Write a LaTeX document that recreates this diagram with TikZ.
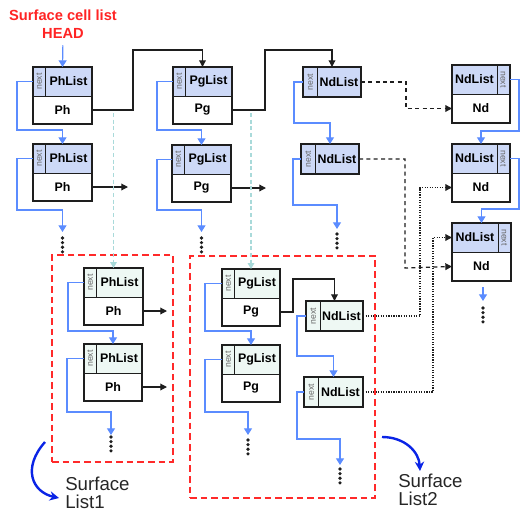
\documentclass[tikz,border=0pt]{standalone}
\usepackage{fontspec}
\setmainfont{Liberation Sans}
\usepackage{graphicx}
\usetikzlibrary{arrows.meta}
\definecolor{topblue}{HTML}{CDD9F7}
\definecolor{topmint}{HTML}{EEF8F4}
\definecolor{nxtblue}{HTML}{5B8CFF}
\definecolor{headred}{HTML}{FF2424}
\definecolor{boxred}{HTML}{FF2A2A}
\definecolor{cyanln}{HTML}{A9DADA}
\definecolor{curveblue}{HTML}{0A24E6}
\definecolor{framegray}{HTML}{1E1E1E}
\tikzset{
  geom/.style={inner sep=0pt, outer sep=0pt},
  strip/.style={draw=framegray, line width=0.6pt, inner sep=0pt, outer sep=0pt,
    minimum width={12*0.75pt}, minimum height={29*0.75pt},
    font=\fontsize{6.5}{7}\selectfont\color{black!60}},
  toplbl/.style={draw=framegray, line width=0.6pt, inner sep=0pt, outer sep=0pt,
    minimum height={29*0.75pt}, font=\fontsize{9.3}{11}\selectfont\bfseries},
  botlbl/.style={draw=framegray, line width=0.6pt, fill=white, inner sep=0pt, outer sep=0pt,
    minimum height={28*0.75pt}, font=\fontsize{9.3}{11}\selectfont\bfseries},
  frame/.style={draw=framegray, line width=1.6pt},
  nextln/.style={draw=nxtblue, line width=0.9pt, -{Triangle[width=6pt,length=5pt]}},
  blk/.style={draw=framegray, line width=0.9pt, -{Triangle[width=5pt,length=5pt]}},
  blkdash/.style={blk, dash pattern=on 3pt off 2.5pt},
  blkdot/.style={blk, densely dotted},
  cyandash/.style={draw=cyanln, line width=0.8pt, dash pattern=on 3pt off 2pt,
    -{Triangle[width=5pt,length=4.5pt]}},
  redbox/.style={draw=boxred, line width=1.3pt, dash pattern=on 5pt off 3pt, inner sep=0pt, outer sep=0pt},
  curvearrow/.style={draw=curveblue, line width=1.8pt, -{Stealth[length=7pt,width=7pt]}},
  headtxt/.style={text=headred, font=\fontsize{11}{13.5}\selectfont\bfseries, align=center, inner sep=0pt},
  listtxt/.style={text=black!85, font=\fontsize{14}{13.5}\selectfont, align=left, inner sep=0pt}
}
% strip on the left, two parts
\newcommand\cellL[7]{%
  \node[geom, minimum width={#4*0.75pt}, minimum height={57*0.75pt}, anchor=north west] (#1) at (#2,#3) {};
  \node[strip, fill=#7, anchor=north west] (#1n) at (#1.north west) {\rotatebox{90}{next}};
  \node[toplbl, fill=#7, minimum width={(#4-12)*0.75pt}, anchor=north west] (#1l) at (#1n.north east) {#5};
  \node[botlbl, minimum width={#4*0.75pt}, anchor=north west] (#1b) at (#1n.south west) {#6};
  \draw[frame] (#1.north west) rectangle (#1.south east);
}
% strip on the right, two parts
\newcommand\cellR[7]{%
  \node[geom, minimum width={#4*0.75pt}, minimum height={58*0.75pt}, anchor=north west] (#1) at (#2,#3) {};
  \node[toplbl, fill=#7, minimum width={(#4-13)*0.75pt}, anchor=north west] (#1l) at (#1.north west) {#5};
  \node[strip, fill=#7, minimum width={13*0.75pt}, anchor=north west] (#1n) at (#1l.north east) {\rotatebox{-90}{next}};
  \node[botlbl, minimum height={29*0.75pt}, minimum width={#4*0.75pt}, anchor=north west] (#1b) at (#1l.south west) {#6};
  \draw[frame] (#1.north west) rectangle (#1.south east);
}
% single row
\newcommand\cellN[6]{%
  \node[geom, minimum width={#4*0.75pt}, minimum height={30*0.75pt}, anchor=north west] (#1) at (#2,#3) {};
  \node[strip, fill=#6, minimum height={30*0.75pt}, minimum width={14*0.75pt}, anchor=north west] (#1n) at (#1.north west) {\rotatebox{90}{next}};
  \node[toplbl, fill=#6, minimum height={30*0.75pt}, minimum width={(#4-14)*0.75pt}, anchor=north west] (#1l) at (#1n.north east) {#5};
  \draw[frame] (#1.north west) rectangle (#1.south east);
}
\newcommand\dotcol[2]{\foreach \kk in {0,1,2,3}{\fill[framegray] (#1,{#2+\kk*4.6}) circle (1.35pt);}}

\begin{document}
\begin{tikzpicture}[x=0.75pt,y=-0.75pt]
\useasboundingbox (0,0) rectangle (522,511);

% surface list frames
\node[redbox, minimum width={121*0.75pt}, minimum height={207*0.75pt}, anchor=north west] (S1) at (52,255) {};
\node[redbox, minimum width={185*0.75pt}, minimum height={242*0.75pt}, anchor=north west] (S2) at (190,256) {};

% title
\node[headtxt] (head) at (63,24) {Surface cell list\\HEAD};

% cells
\cellL{A1}{33}{67}{59}{PhList}{Ph}{topblue}
\cellL{A2}{33}{144}{59}{PhList}{Ph}{topblue}
\cellL{B1}{173}{67}{59}{PgList}{Pg}{topblue}
\cellL{B2}{172}{145}{59}{PgList}{Pg}{topblue}
\cellN{C1}{303}{67}{58}{NdList}{topblue}
\cellN{C2}{301}{144}{58}{NdList}{topblue}
\cellR{D1}{452}{65}{58}{NdList}{Nd}{topblue}
\cellR{D2}{452}{144}{58}{NdList}{Nd}{topblue}
\cellR{D3}{452}{223}{59}{NdList}{Nd}{topblue}
\cellL{E1}{84}{268}{59}{PhList}{Ph}{topmint}
\cellL{E2}{84}{344}{58}{PhList}{Ph}{topmint}
\cellL{F1}{222}{269}{58}{PgList}{Pg}{topmint}
\cellL{F2}{222}{345}{58}{PgList}{Pg}{topmint}
\cellN{G1}{306}{301}{57}{NdList}{topmint}
\cellN{G2}{304}{377}{59}{NdList}{topmint}

% free ends
\coordinate (A3) at (62.5,232);
\coordinate (B3) at (201.5,232);
\coordinate (C3) at (337,229);
\coordinate (D4a) at (483,287);
\coordinate (D4) at (483,301);
\coordinate (E3) at (111,435);
\coordinate (F3) at (248,435);
\coordinate (G3) at (340,465);
\coordinate (A2o) at (128,187);
\coordinate (B2o) at (266,188);
\coordinate (E1o) at (167,311);
\coordinate (E2o) at (167,387);
\coordinate (cyA) at (113.5,113);
\coordinate (cyB) at (251,113);

% head arrow
\draw[nextln, shorten <=5pt] (head.south) -- (A1.north);

% next links
\draw[nextln] (A1n.west) -| (17,130) -| (A2.north);
\draw[nextln] (A2n.west) -| (17,210) -| (A3);
\draw[nextln] (B1n.west) -| (157,130) -| (B2.north);
\draw[nextln] (B2n.west) -| (157,210) -| (B3);
\draw[nextln] (C1n.west) -| (294,123) -| (C2.north);
\draw[nextln] (C2n.west) -| (293,205) -| (C3);
\draw[nextln] (D1n.east) -| (519,131) -| (D2.north);
\draw[nextln] (D2n.east) -| (519,209) -| (D3.north);
\draw[nextln] (D4a) -- (D4);
\draw[nextln] (E1n.west) -| (68,331) -| (E2.north);
\draw[nextln] (E2n.west) -| (67,412) -| (E3);
\draw[nextln] (F1n.west) -| (205,331) -| (F2.north);
\draw[nextln] (F2n.west) -| (205,412) -| (F3);
\draw[nextln] (G1n.west) -| (297,356) -| (G2.north);
\draw[nextln] (G2n.west) -| (297,439) -| (G3);

% dots
\dotcol{62.5}{238}
\dotcol{201.5}{238}
\dotcol{337}{234}
\dotcol{483}{308}
\dotcol{111}{437}
\dotcol{248}{440}
\dotcol{340}{469}

% black links
\draw[blk] (A1b.east) -| (133,50) -| (B1.north);
\draw[blk] (B1b.east) -| (265,50) -| (C1.north);
\draw[blk] (A2b.east) -- (A2o);
\draw[blk] (B2b.east) -- (B2o);
\draw[blk] (E1b.east) -- (E1o);
\draw[blk] (E2b.east) -- (E2o);
\draw[blk] (F1b.east) -| (293,279) -| (G1.north);

% dashed links
\draw[blkdash] (C1.east) -| (406,108.5) -- (D1b.west);
\draw[blkdash] (C2.east) -| (405,268) -- (D3b.west);

% dotted links
\draw[blkdot] (G1.east) -| (420,187.5) -- (D2b.west);
\draw[blkdot] (G2.east) -| (433,237.5) -- (D3l.west);

% cyan dashed
\draw[cyandash] (cyA) -- (E1.north);
\draw[cyandash] (cyB) -- (F1.north);

% surface list labels
\node[listtxt, anchor=north west] (L1) at (65,477) {Surface\\List1};
\node[listtxt, anchor=north west] (L2) at (398,474) {Surface\\List2};
\coordinate (c1s) at (45,442);
\coordinate (c1e) at (59,498);
\coordinate (c2s) at (382,437);
\coordinate (c2e) at (420,471);
\draw[curvearrow] (c1s) .. controls (22,468) and (32,492) .. (c1e);
\draw[curvearrow] (c2s) .. controls (405,437) and (419,452) .. (c2e);
\end{tikzpicture}
\end{document}
